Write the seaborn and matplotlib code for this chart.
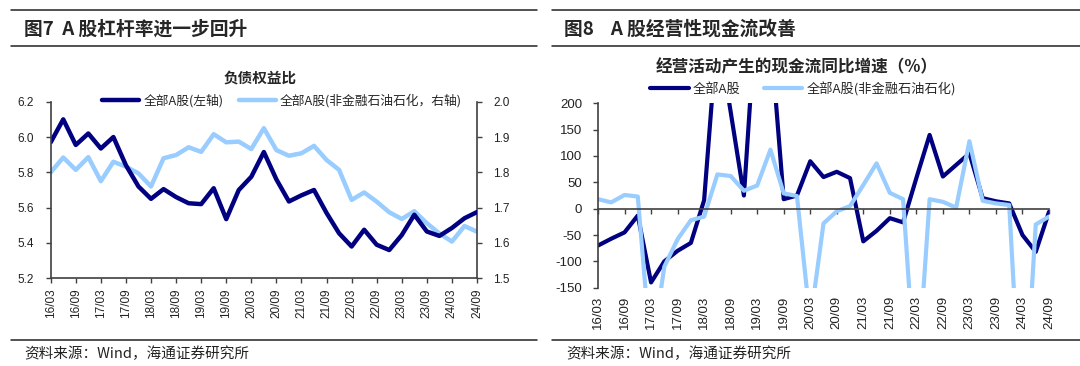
import matplotlib
matplotlib.use("Agg")
import matplotlib.pyplot as plt
import seaborn as sns
import pandas as pd
from matplotlib.lines import Line2D

# quarterly report dates, 16/03 .. 24/09
quarters = [f"{y:02d}/{m:02d}" for y in range(16, 25) for m in (3, 6, 9, 12)][:35]

# 图7 负债权益比
leverage_all = [5.97, 6.10, 5.955, 6.02, 5.935, 6.00, 5.84, 5.72, 5.65, 5.705,
                5.66, 5.625, 5.62, 5.71, 5.535, 5.70, 5.775, 5.915, 5.76, 5.635,
                5.67, 5.70, 5.57, 5.455, 5.38, 5.475, 5.39, 5.36, 5.445, 5.56,
                5.465, 5.44, 5.485, 5.54, 5.575]
leverage_ex = [1.80, 1.842, 1.807, 1.843, 1.775, 1.83, 1.816, 1.797, 1.76, 1.84,
               1.849, 1.871, 1.858, 1.908, 1.885, 1.887, 1.866, 1.925, 1.863, 1.847,
               1.854, 1.875, 1.835, 1.807, 1.722, 1.743, 1.717, 1.687, 1.668, 1.69,
               1.656, 1.627, 1.604, 1.648, 1.632]

# 图8 经营活动产生的现金流同比增速（%）
cashflow_all = [-70, -57, -45, -13, -140, -100, -80, -65, 16, 340,
                184, 25, 404, 332, 18, 25, 90, 60, 70, 58,
                -62, -42, -18, -26, 58, 140, 61, 83, 105, 20,
                14, 10, -50, -82, -6]
cashflow_ex = [18, 12, 26, 23, -280, -110, -58, -22, -15, 65,
               62, 34, 44, 112, 29, 24, -215, -28, -5, 5,
               45, 86, 30, 18, -350, 18, 13, 2, 128, 15,
               10, 7, -450, -30, -15]

left_ticks = [5.2, 5.4, 5.6, 5.8, 6.0, 6.2]
right_ticks = [1.5, 1.6, 1.7, 1.8, 1.9, 2.0]
cf_ticks = [-150, -100, -50, 0, 50, 100, 150, 200]

DARK = "#000080"
LIGHT = "#99ccff"
AXC = "#404040"
CJK = ["Noto Sans CJK SC", "DejaVu Sans"]
NUM = ["Liberation Sans", "DejaVu Sans"]

sns.set_theme(style="white")
plt.rcParams["font.family"] = CJK

W, H = 1080, 366


def fx(x):
    return x / W


def fy(y):
    return 1 - y / H


fig = plt.figure(figsize=(10.8, 3.66), dpi=100)
fig.patch.set_facecolor("white")

pos = list(range(len(quarters)))
df_lev = pd.DataFrame({"pos": pos, "all": leverage_all, "ex": leverage_ex})
df_cf = pd.DataFrame({"pos": pos, "all": cashflow_all, "ex": cashflow_ex})


def style_ticks(ax, size):
    for lab in ax.get_xticklabels() + ax.get_yticklabels():
        lab.set_family(NUM)
        lab.set_fontsize(size)
        lab.set_color("#222222")


# ---------- left panel ----------
ax = fig.add_axes([fx(50.7), fy(278.3), fx(477) - fx(50.7), fy(101.7) - fy(278.3)])
ax2 = ax.twinx()
sns.lineplot(data=df_lev, x="pos", y="ex", ax=ax2, color=LIGHT, lw=3.2,
             solid_capstyle="round", solid_joinstyle="round", legend=False)
sns.lineplot(data=df_lev, x="pos", y="all", ax=ax, color=DARK, lw=3.2,
             solid_capstyle="round", solid_joinstyle="round", legend=False)
ax.set_zorder(ax2.get_zorder() + 1)
ax.patch.set_visible(False)

ax.set_xlim(0, 34)
ax.set_ylim(5.2, 6.2)
ax2.set_ylim(1.5, 2.0)
ax.set_yticks(left_ticks, [f"{v:.1f}" for v in left_ticks])
ax2.set_yticks(right_ticks, [f"{v:.1f}" for v in right_ticks])
ax.set_xticks(pos[::2], quarters[::2], rotation=90)
ax.set_xlabel("")
ax.set_ylabel("")
ax2.set_ylabel("")
for a in (ax, ax2):
    for s in a.spines.values():
        s.set_visible(False)
ax.spines["left"].set_visible(True)
ax.spines["bottom"].set_visible(True)
ax2.spines["right"].set_visible(True)
for a in (ax, ax2):
    for s in a.spines.values():
        s.set_color(AXC)
        s.set_linewidth(1.2)
ax.tick_params(axis="both", direction="out", length=3.5, width=1, color=AXC)
ax.tick_params(axis="x", pad=4, bottom=True)
ax.tick_params(axis="y", left=True, pad=8.5)
ax2.tick_params(axis="y", direction="out", length=3.5, width=1, color=AXC, pad=8,
                right=True)
ax.grid(False)
ax2.grid(False)
style_ticks(ax, 8.5)
style_ticks(ax2, 8.5)

# ---------- right panel ----------
axr = fig.add_axes([fx(598), fy(287.7), fx(1049) - fx(598), fy(103.3) - fy(287.7)])
sns.lineplot(data=df_cf, x="pos", y="all", ax=axr, color=DARK, lw=3,
             solid_capstyle="round", solid_joinstyle="round", legend=False)
sns.lineplot(data=df_cf, x="pos", y="ex", ax=axr, color=LIGHT, lw=3,
             solid_capstyle="round", solid_joinstyle="round", legend=False)
axr.set_xlim(0, 34)
axr.set_ylim(-150, 200)
axr.set_yticks(cf_ticks, [str(v) for v in cf_ticks])
axr.set_xlabel("")
axr.set_ylabel("")
for s in axr.spines.values():
    s.set_visible(False)
axr.spines["left"].set_visible(True)
axr.spines["bottom"].set_visible(True)
axr.spines["bottom"].set_position(("data", 0))
for s in axr.spines.values():
    s.set_color(AXC)
    s.set_linewidth(1.2)
axr.set_xticks(pos[::2])
axr.tick_params(axis="x", direction="out", length=3.5, width=1, color=AXC,
                bottom=True, labelbottom=False)
axr.tick_params(axis="y", direction="out", length=3.5, width=1, color=AXC, pad=8,
                left=True)
axr.grid(False)
sec = axr.secondary_xaxis(0)
sec.set_xticks(pos[::2], quarters[::2], rotation=90)
sec.tick_params(axis="x", length=0, pad=6)
sec.spines["bottom"].set_visible(False)
style_ticks(axr, 9.5)
style_ticks(sec, 9.5)

# ---------- chart titles & legends ----------
fig.text(fx(260), fy(78), "负债权益比", ha="center", va="center",
         fontsize=10.5, fontweight="bold", family=CJK)
fig.text(fx(797), fy(67), "经营活动产生的现金流同比增速（%）", ha="center", va="center",
         fontsize=12, fontweight="bold", family=CJK)

leg_kw = dict(frameon=False, ncol=2, handletextpad=0.3, loc="center",
              borderaxespad=0, borderpad=0)
h_left = [Line2D([], [], color=DARK, lw=3.2), Line2D([], [], color=LIGHT, lw=3.2)]
fig.legend(h_left, ["全部A股(左轴)", "全部A股(非金融石油石化，右轴)"],
           bbox_to_anchor=(fx(282), fy(100.7)), handlelength=2.9, columnspacing=1.2,
           prop={"family": CJK, "size": 9.2}, **leg_kw)
h_right = [Line2D([], [], color=DARK, lw=3), Line2D([], [], color=LIGHT, lw=3)]
fig.legend(h_right, ["全部A股", "全部A股(非金融石油石化)"],
           bbox_to_anchor=(fx(803), fy(89)), handlelength=2.9, columnspacing=1.8,
           prop={"family": CJK, "size": 9.5}, **leg_kw)

# ---------- report frame: headers, rules, sources ----------
for x0, x1 in ((11, 537), (552, 1080)):
    for yy in (10, 46, 340):
        fig.add_artist(Line2D([fx(x0), fx(x1)], [fy(yy), fy(yy)], color="#222222", lw=1.1))

fig.text(fx(24), fy(29), "图7  A 股杠杆率进一步回升", ha="left", va="center",
         fontsize=13.5, fontweight="bold", family=CJK)
fig.text(fx(564), fy(29), "图8    A 股经营性现金流改善", ha="left", va="center",
         fontsize=13.5, fontweight="bold", family=CJK)
fig.text(fx(24), fy(354), "资料来源：Wind，海通证券研究所", ha="left", va="center",
         fontsize=10.5, family=CJK, color="#222222")
fig.text(fx(566), fy(354), "资料来源：Wind，海通证券研究所", ha="left", va="center",
         fontsize=10.5, family=CJK, color="#222222")

fig.savefig("out.png", dpi=100, facecolor="white")
